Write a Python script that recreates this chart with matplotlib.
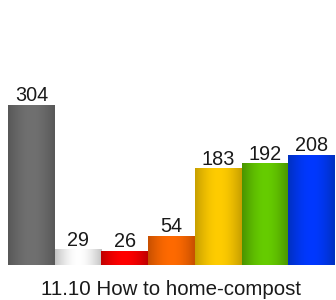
import numpy as np
import matplotlib
matplotlib.use("Agg")
import matplotlib.pyplot as plt
from matplotlib.colors import to_rgb

plt.rcParams['font.family'] = ['Liberation Sans', 'DejaVu Sans']

values = [304, 29, 26, 54, 183, 192, 208]
edge_colors = ['#585858', '#c4c4c4', '#c00000', '#c85000', '#c8a000', '#4a9400', '#0030c0']
mid_colors = ['#707070', '#ffffff', '#ff0000', '#ff6a00', '#ffcc00', '#66cc00', '#0038ff']
title = '11.10 How to home-compost'

fig = plt.figure(figsize=(3.36, 3.0), dpi=100)
ax = fig.add_axes([8 / 336, 35 / 300, 327 / 336, 265 / 300])
ax.set_xlim(-0.5, len(values) - 0.5)
ax.set_ylim(0, 265 * 304 / 160)
ax.axis('off')

# cylinder-like shading: dark edges, bright middle
t = np.linspace(0, 1, 64)
w = np.sin(np.pi * t)
for i, v in enumerate(values):
    e = np.array(to_rgb(edge_colors[i]))
    m = np.array(to_rgb(mid_colors[i]))
    row = e[None, :] * (1 - w[:, None]) + m[None, :] * w[:, None]
    img = row[None, :, :]
    ax.imshow(img, extent=(i - 0.5, i + 0.5, 0, v), aspect='auto',
              interpolation='bilinear', zorder=2)
    ax.annotate(str(v), (i, v), xytext=(0, 3), textcoords='offset points',
                ha='center', va='baseline', fontsize=14.3, color='#1a1a1a')

fig.text(0.51, 5 / 300, title, ha='center', va='baseline', fontsize=14.8,
         color='#1a1a1a')

fig.savefig('out.png', dpi=100)
